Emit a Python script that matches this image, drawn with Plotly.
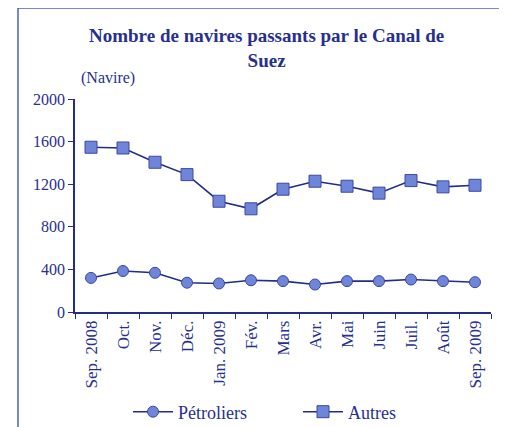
import plotly.graph_objects as go

months = ["Sep. 2008", "Oct.", "Nov.", "Déc.", "Jan. 2009", "Fév.", "Mars",
          "Avr.", "Mai", "Juin", "Juil.", "Août", "Sep. 2009"]
petroliers = [320, 385, 368, 275, 268, 298, 290, 258, 290, 290, 305, 290, 280]
autres = [1547, 1540, 1406, 1290, 1040, 969, 1153, 1228, 1181, 1116, 1234, 1175, 1190]
y_ticks = [0, 400, 800, 1200, 1600, 2000]

NAVY = "#232c86"
TEXT = "#27308f"
FILL = "#6f86d8"
FONT = "Liberation Serif"

fig = go.Figure()
fig.add_trace(go.Scatter(
    x=months, y=petroliers, name="Pétroliers", mode="lines+markers",
    line=dict(color=NAVY, width=1.6),
    marker=dict(symbol="circle", size=11, color=FILL, line=dict(color="#3a47a8", width=1)),
))
fig.add_trace(go.Scatter(
    x=months, y=autres, name="Autres", mode="lines+markers",
    line=dict(color=NAVY, width=1.6),
    marker=dict(symbol="square", size=12, color=FILL, line=dict(color="#3a47a8", width=1)),
))

# page body has an 8px margin; work in screen pixels and convert
O = 8
W, H = 507 - O, 427 - O
L = 75 - O
T = 99 - O
R = W - (491 - O)
B = H - (312 - O)
pw = W - L - R
ph = H - T - B

def px(x):
    return (x - O - L) / pw

def py(y):
    return (H - B - (y - O)) / ph

fig.update_layout(
    width=W, height=H,
    margin=dict(l=L, r=R, t=T, b=B, autoexpand=False),
    paper_bgcolor="white", plot_bgcolor="white",
    font=dict(family=FONT, color=TEXT, size=16),
    showlegend=True,
    legend=dict(orientation="h", xref="paper", yref="paper",
                x=px(128), xanchor="left", y=py(412), yanchor="middle",
                font=dict(family=FONT, size=18, color=TEXT), itemwidth=40,
                entrywidth=115,
                bgcolor="rgba(0,0,0,0)"),
    xaxis=dict(
        type="category", range=[-0.5, 12.5], tickangle=-90, automargin=False,
        showline=True, linecolor=NAVY, linewidth=1.5,
        ticks="outside", ticklen=5, tickcolor=NAVY, tickson="boundaries",
        showgrid=False, zeroline=False,
        tickfont=dict(family=FONT, size=17, color=TEXT),
    ),
    yaxis=dict(
        range=[0, 2000], tickvals=y_ticks, automargin=False,
        showline=True, linecolor=NAVY, linewidth=1.5,
        ticks="outside", ticklen=5, tickcolor=NAVY,
        showgrid=False, zeroline=False,
        tickfont=dict(family=FONT, size=16, color=TEXT),
    ),
    shapes=[dict(type="rect", xref="paper", yref="paper",
                 x0=px(18), x1=px(500), y0=py(445), y1=py(8),
                 line=dict(color="#4f5fcc", width=1.5), fillcolor="rgba(0,0,0,0)", layer="below")],
    annotations=[
        dict(text="<b>Nombre de navires passants par le Canal de<br>Suez</b>",
             xref="paper", yref="paper", x=px(266), y=py(48), xanchor="center", yanchor="middle",
             showarrow=False, font=dict(family=FONT, size=19, color=TEXT)),
        dict(text="(Navire)", xref="paper", yref="paper", x=px(79), y=py(78),
             xanchor="left", yanchor="middle", showarrow=False,
             font=dict(family=FONT, size=16, color=TEXT)),
    ],
)

fig.write_html("out.html")
